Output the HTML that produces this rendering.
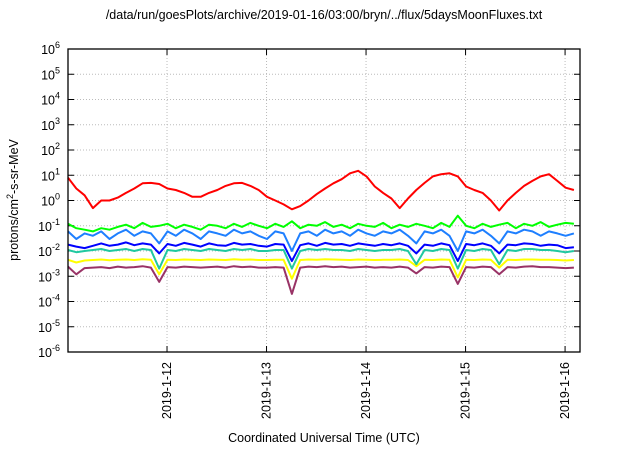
<!DOCTYPE html>
<html><head><meta charset="utf-8"><style>
body{margin:0;background:#fff}
svg{font-family:"Liberation Sans",sans-serif}
</style></head><body>
<svg width="640" height="448" id="c">
<text x="324" y="19" font-size="12.5" text-anchor="middle">/data/run/goesPlots/archive/2019-01-16/03:00/bryn/../flux/5daysMoonFluxes.txt</text>
<text x="324" y="442" font-size="12.5" text-anchor="middle">Coordinated Universal Time (UTC)</text>
<text transform="translate(18,200) rotate(-90)" font-size="12.5" text-anchor="middle">protons/cm<tspan font-size="9" dy="-5">2</tspan><tspan dy="5">-s-sr-MeV</tspan></text>
<g id="grid"></g><g id="series"></g>
<rect x="68" y="49" width="512" height="303" fill="none" stroke="#000" stroke-width="1.3"/>
</svg>
<script>
const xTicks=[1,2,3,4,5];
const xTickLabels=["2019-1-12","2019-1-13","2019-1-14","2019-1-15","2019-1-16"];
const yTickExp=[-6,-5,-4,-3,-2,-1,0,1,2,3,4,5,6];
const red=[8,3,1.6,0.5,1.0,1.0,1.3,2,3,4.8,5,4.5,3,2.6,2,1.4,1.4,2,2.6,3.8,4.8,5,3.8,2.6,1.4,1.0,0.7,0.45,0.6,1.0,1.8,3,4.8,7,12,15,9,3.6,2,1.2,0.5,1.2,2.6,5,9,11,12,9,3.6,2.6,2,1.0,0.4,1.0,2,3.8,6,9,11,6,3.2,2.6];
const green=[0.12,0.08,0.07,0.06,0.08,0.07,0.09,0.11,0.08,0.13,0.09,0.10,0.12,0.08,0.11,0.09,0.07,0.11,0.10,0.08,0.12,0.09,0.13,0.10,0.08,0.12,0.09,0.15,0.08,0.11,0.10,0.14,0.09,0.11,0.08,0.12,0.10,0.09,0.13,0.08,0.11,0.09,0.12,0.10,0.08,0.13,0.09,0.25,0.10,0.08,0.12,0.09,0.11,0.13,0.08,0.12,0.10,0.14,0.09,0.11,0.13,0.12];
const lightBlue=[0.06,0.03,0.05,0.04,0.06,0.03,0.05,0.07,0.04,0.06,0.05,0.02,0.06,0.04,0.07,0.05,0.03,0.06,0.05,0.04,0.07,0.05,0.06,0.04,0.03,0.06,0.05,0.01,0.05,0.06,0.04,0.07,0.05,0.06,0.04,0.07,0.05,0.04,0.06,0.05,0.07,0.04,0.02,0.06,0.05,0.07,0.04,0.01,0.06,0.05,0.07,0.04,0.02,0.06,0.05,0.07,0.06,0.04,0.06,0.05,0.04,0.05];
const blue=[0.018,0.015,0.013,0.016,0.020,0.016,0.018,0.022,0.017,0.020,0.018,0.008,0.019,0.016,0.021,0.018,0.015,0.020,0.017,0.016,0.021,0.018,0.019,0.016,0.015,0.019,0.018,0.004,0.017,0.020,0.016,0.021,0.018,0.019,0.016,0.020,0.018,0.016,0.019,0.017,0.020,0.016,0.008,0.018,0.016,0.020,0.017,0.004,0.019,0.017,0.020,0.016,0.008,0.018,0.017,0.020,0.019,0.016,0.018,0.017,0.013,0.014];
const teal=[0.011,0.009,0.010,0.011,0.012,0.010,0.011,0.012,0.010,0.012,0.011,0.002,0.011,0.010,0.012,0.011,0.010,0.012,0.011,0.010,0.012,0.011,0.012,0.010,0.010,0.011,0.011,0.002,0.010,0.012,0.011,0.012,0.011,0.011,0.010,0.012,0.011,0.010,0.011,0.011,0.012,0.010,0.003,0.011,0.010,0.012,0.011,0.002,0.011,0.010,0.012,0.011,0.003,0.011,0.010,0.012,0.012,0.011,0.011,0.010,0.009,0.010];
const yellow=[0.0045,0.0035,0.0042,0.0044,0.0046,0.0043,0.0045,0.0046,0.0044,0.0047,0.0045,0.0012,0.0045,0.0044,0.0046,0.0045,0.0044,0.0046,0.0045,0.0044,0.0047,0.0045,0.0046,0.0044,0.0044,0.0045,0.0045,0.0008,0.0044,0.0046,0.0045,0.0047,0.0046,0.0045,0.0044,0.0046,0.0045,0.0044,0.0045,0.0045,0.0046,0.0044,0.0025,0.0045,0.0044,0.0046,0.0045,0.0009,0.0045,0.0044,0.0046,0.0045,0.0022,0.0045,0.0044,0.0046,0.0046,0.0045,0.0045,0.0044,0.0042,0.0044];
const purple=[0.0024,0.0012,0.0021,0.0022,0.0023,0.0021,0.0024,0.0022,0.0023,0.0025,0.0022,0.0006,0.0023,0.0022,0.0024,0.0023,0.0022,0.0023,0.0024,0.0022,0.0025,0.0023,0.0024,0.0022,0.0022,0.0023,0.0022,0.0002,0.0022,0.0024,0.0023,0.0025,0.0023,0.0024,0.0022,0.0023,0.0024,0.0022,0.0023,0.0022,0.0024,0.0022,0.0013,0.0023,0.0022,0.0024,0.0023,0.0005,0.0023,0.0022,0.0024,0.0023,0.0012,0.0023,0.0022,0.0024,0.0025,0.0023,0.0023,0.0022,0.0021,0.0022];
const stepDays=1/12;
const L=68,R=580,T=49,B=352,X0=0.005,X1=5.15;
function xs(d){return L+(d-X0)/(X1-X0)*(R-L);}
function ys(v){return B-(Math.log10(v)+6)/12*(B-T);}
const NS="http://www.w3.org/2000/svg";
const svg=document.getElementById('c'),grid=document.getElementById('grid'),ser=document.getElementById('series');
function mk(tag,attrs,parent){const e=document.createElementNS(NS,tag);for(const k in attrs)e.setAttribute(k,attrs[k]);parent.appendChild(e);return e;}
yTickExp.forEach(p=>{
  const y=ys(Math.pow(10,p));
  if(p>-6&&p<6){const g=mk('line',{x1:L,x2:R,y1:y,y2:y,stroke:'#bbb','stroke-dasharray':'1,2'},grid);
  
  }
  const t=mk('line',{x1:L,x2:L+6,y1:y,y2:y,stroke:'#000'},grid);
  
  
  const t2=mk('line',{x1:R,x2:R-6,y1:y,y2:y,stroke:'#000'},grid);
  
  
  const tx=mk('text',{x:60,y:y+5,'font-size':12.5,'text-anchor':'end'},svg);
  
  
  tx.innerHTML='10<tspan font-size="9" dy="-6">'+p+'</tspan>';
});
xTicks.forEach((d,i)=>{
  const x=xs(d);
  const g=mk('line',{x1:x,x2:x,y1:T,y2:B,stroke:'#bbb','stroke-dasharray':'1,2'},grid);
  
  
  const t=mk('line',{x1:x,x2:x,y1:B,y2:B-6,stroke:'#000'},grid);
  
  
  const t2=mk('line',{x1:x,x2:x,y1:T,y2:T+6,stroke:'#000'},grid);
  
  
  const tx=mk('text',{transform:'translate('+(x+4)+',362) rotate(-90)','font-size':12.5,'text-anchor':'end'},svg);
  
  
  tx.textContent=xTickLabels[i];
});
const list=[[purple,'#993366','purple-series'],[yellow,'#ffff00','yellow-series'],[teal,'#20c8a0','teal-series'],[blue,'#0000ff','blue-series'],[lightBlue,'#1e7fff','light-blue-series'],[green,'#00ff00','green-series'],[red,'#ff0000','red-series']];
list.forEach(([arr,col,name])=>{
  const d=arr.map((v,i)=>(i?'L':'M')+xs(i*stepDays+X0).toFixed(1)+','+ys(v).toFixed(1)).join('');
  const p=mk('path',{d:d,fill:'none',stroke:col,'stroke-width':2,'stroke-linejoin':'round'},ser);
  
  
});
</script>
</body></html>
